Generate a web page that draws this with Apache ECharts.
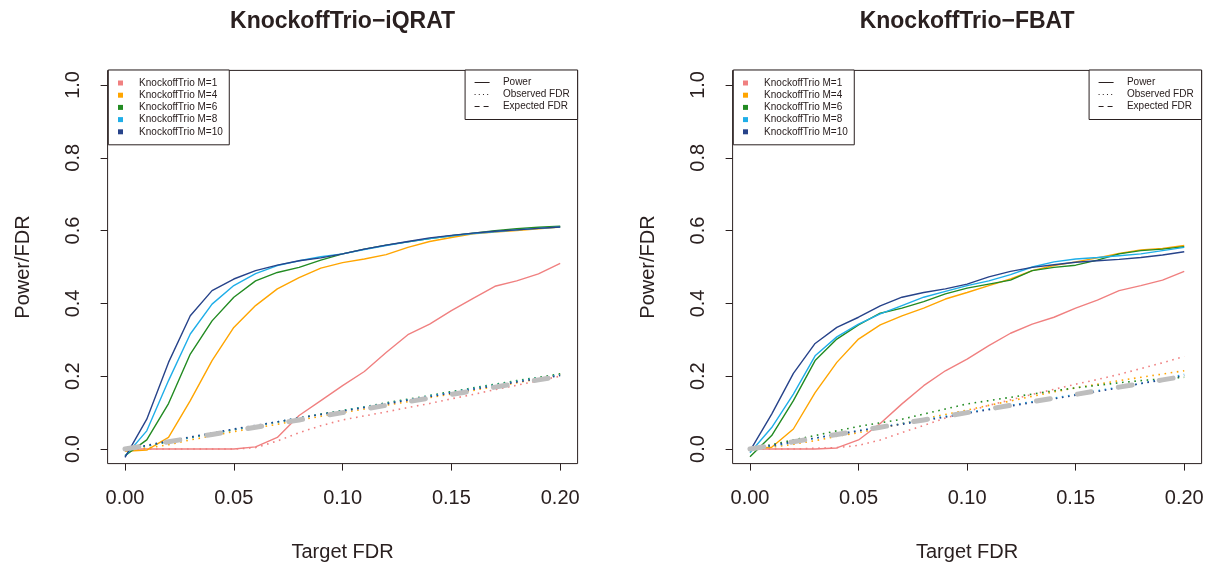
<!DOCTYPE html>
<html>
<head>
<meta charset="utf-8">
<script src="https://cdn.jsdelivr.net/npm/echarts@6/dist/echarts.min.js"></script>
<style>
html,body{margin:0;padding:0;background:#fff;}
#c{width:1212px;height:569px;}
</style>
</head>
<body>
<div id="c"></div>
<script>
// ---- data ----
var targetFDR = [0,0.01,0.02,0.03,0.04,0.05,0.06,0.07,0.08,0.09,0.10,0.11,0.12,0.13,0.14,0.15,0.16,0.17,0.18,0.19,0.20];
var expectedFDR = [0,0.01,0.02,0.03,0.04,0.05,0.06,0.07,0.08,0.09,0.10,0.11,0.12,0.13,0.14,0.15,0.16,0.17,0.18,0.19,0.20];
var methodNames = ["KnockoffTrio M=1","KnockoffTrio M=4","KnockoffTrio M=6","KnockoffTrio M=8","KnockoffTrio M=10"];
var panelTitles = ["KnockoffTrio\u2212iQRAT","KnockoffTrio\u2212FBAT"];
var xTicks = [0,0.05,0.10,0.15,0.20];
var yTicks = [0,0.2,0.4,0.6,0.8,1.0];
var styleNames = ["Power","Observed FDR","Expected FDR"];

// iQRAT panel
var iqratPowerM1  = [0,0,0,0,0,0,0.006,0.032,0.092,0.133,0.174,0.213,0.265,0.314,0.343,0.38,0.414,0.447,0.462,0.481,0.51];
var iqratPowerM4  = [-0.006,-0.003,0.032,0.133,0.243,0.334,0.394,0.44,0.471,0.497,0.512,0.522,0.534,0.554,0.57,0.581,0.591,0.596,0.6,0.605,0.61];
var iqratPowerM6  = [-0.018,0.025,0.125,0.261,0.352,0.417,0.462,0.485,0.499,0.519,0.536,0.549,0.56,0.569,0.578,0.586,0.593,0.6,0.605,0.609,0.612];
var iqratPowerM8  = [-0.02,0.05,0.188,0.316,0.398,0.449,0.482,0.504,0.517,0.528,0.536,0.548,0.559,0.569,0.578,0.586,0.592,0.597,0.602,0.606,0.61];
var iqratPowerM10 = [-0.023,0.082,0.238,0.366,0.435,0.467,0.49,0.505,0.517,0.525,0.536,0.549,0.56,0.57,0.58,0.587,0.593,0.598,0.602,0.606,0.61];
var iqratObsM1  = [0,0,0,0,0,0,0.004,0.022,0.045,0.064,0.08,0.091,0.102,0.114,0.125,0.138,0.15,0.163,0.175,0.188,0.2];
var iqratObsM4  = [0,0.002,0.012,0.025,0.036,0.048,0.058,0.068,0.079,0.09,0.1,0.11,0.12,0.13,0.141,0.151,0.161,0.172,0.182,0.193,0.205];
var iqratObsM6  = [0,0.008,0.02,0.031,0.042,0.053,0.064,0.074,0.085,0.096,0.106,0.116,0.127,0.137,0.147,0.158,0.168,0.178,0.188,0.197,0.207];
var iqratObsM8  = [0,0.009,0.021,0.032,0.043,0.054,0.064,0.075,0.085,0.095,0.105,0.115,0.125,0.135,0.146,0.156,0.166,0.176,0.186,0.195,0.204];
var iqratObsM10 = [0,0.01,0.022,0.033,0.044,0.055,0.065,0.075,0.085,0.095,0.104,0.114,0.124,0.134,0.144,0.154,0.164,0.174,0.184,0.193,0.202];

// FBAT panel
var fbatPowerM1  = [0,0,0,0,0.003,0.025,0.07,0.124,0.174,0.215,0.247,0.284,0.318,0.343,0.362,0.387,0.409,0.435,0.449,0.464,0.488];
var fbatPowerM4  = [0,0.005,0.055,0.155,0.238,0.302,0.341,0.366,0.387,0.412,0.43,0.449,0.467,0.49,0.504,0.514,0.525,0.537,0.547,0.551,0.559];
var fbatPowerM6  = [-0.021,0.037,0.133,0.243,0.302,0.341,0.373,0.387,0.405,0.426,0.442,0.453,0.464,0.49,0.499,0.505,0.519,0.536,0.545,0.549,0.556];
var fbatPowerM8  = [-0.01,0.059,0.151,0.256,0.308,0.343,0.371,0.394,0.417,0.433,0.449,0.462,0.479,0.5,0.514,0.522,0.526,0.531,0.536,0.545,0.554];
var fbatPowerM10 = [-0.005,0.096,0.208,0.29,0.334,0.362,0.393,0.417,0.43,0.44,0.453,0.473,0.488,0.499,0.506,0.513,0.517,0.521,0.526,0.533,0.542];
var fbatObsM1  = [0,0,0,0.002,0.004,0.01,0.025,0.045,0.065,0.085,0.103,0.12,0.135,0.15,0.164,0.178,0.191,0.205,0.221,0.237,0.254];
var fbatObsM4  = [0,0.005,0.013,0.023,0.035,0.045,0.057,0.07,0.083,0.095,0.107,0.12,0.132,0.145,0.157,0.168,0.178,0.188,0.197,0.206,0.215];
var fbatObsM6  = [0,0.012,0.025,0.037,0.05,0.062,0.072,0.082,0.096,0.11,0.124,0.133,0.142,0.151,0.16,0.168,0.175,0.182,0.188,0.193,0.197];
var fbatObsM8  = [0,0.008,0.018,0.03,0.041,0.05,0.06,0.07,0.08,0.09,0.1,0.11,0.12,0.13,0.14,0.15,0.16,0.17,0.18,0.192,0.205];
var fbatObsM10 = [0,0.01,0.02,0.03,0.04,0.05,0.06,0.068,0.078,0.088,0.098,0.108,0.118,0.128,0.138,0.148,0.158,0.168,0.18,0.19,0.202];

// ---- styling ----
var colors = ["#F08080","#FFA500","#228B22","#1FAEE8","#27438A"];
var ink = "#2a2020";
var FONT = "Liberation Sans";
var panels = [
  {power:[iqratPowerM1,iqratPowerM4,iqratPowerM6,iqratPowerM8,iqratPowerM10],
   obs:[iqratObsM1,iqratObsM4,iqratObsM6,iqratObsM8,iqratObsM10],
   left:107.6, right:1212-577.6, titleX:342.6},
  {power:[fbatPowerM1,fbatPowerM4,fbatPowerM6,fbatPowerM8,fbatPowerM10],
   obs:[fbatObsM1,fbatObsM4,fbatObsM6,fbatObsM8,fbatObsM10],
   left:732.6, right:1212-1201.6, titleX:967.1}
];

function zip(xs, ys){ return xs.map(function(x,i){ return [x, ys[i]]; }); }

var grids=[], xAxes=[], yAxes=[], series=[], legends=[], graphics=[];
panels.forEach(function(p, gi){
  grids.push({left:p.left, right:p.right, top:70.4, bottom:569-463.6, show:true,
    borderColor:ink, borderWidth:1, backgroundColor:'transparent', containLabel:false});
  xAxes.push({type:'value', gridIndex:gi, min:-0.008, max:0.208,
    name:'Target FDR', nameLocation:'middle', nameGap:79,
    nameTextStyle:{fontSize:20, color:ink, fontFamily:FONT},
    axisLine:{show:false, onZero:false}, splitLine:{show:false},
    axisTick:{show:true, customValues:xTicks, length:7, lineStyle:{color:ink, width:1}},
    axisLabel:{show:true, customValues:xTicks, margin:25, fontSize:20, color:ink, fontFamily:FONT,
      formatter:function(v){ return v.toFixed(2); }}});
  yAxes.push({type:'value', gridIndex:gi, min:-0.04, max:1.04,
    name:'Power/FDR', nameLocation:'middle', nameGap:74,
    nameTextStyle:{fontSize:20, color:ink, fontFamily:FONT},
    axisLine:{show:false, onZero:false}, splitLine:{show:false},
    axisTick:{show:true, customValues:yTicks, length:7, lineStyle:{color:ink, width:1}},
    axisLabel:{show:true, customValues:yTicks, margin:24, rotate:90, fontSize:20, color:ink, fontFamily:FONT,
      formatter:function(v){ return v.toFixed(1); }}});
  for (var k=0;k<5;k++){
    series.push({type:'line', name:methodNames[k], xAxisIndex:gi, yAxisIndex:gi,
      data:zip(targetFDR, p.power[k]), symbol:'none', silent:true, animation:false,
      itemStyle:{color:colors[k]}, lineStyle:{color:colors[k], width:1.4}});
  }
  for (var k2=0;k2<5;k2++){
    series.push({type:'line', name:methodNames[k2], xAxisIndex:gi, yAxisIndex:gi,
      data:zip(targetFDR, p.obs[k2]), symbol:'none', silent:true, animation:false,
      itemStyle:{color:colors[k2]}, lineStyle:{color:colors[k2], width:1.6, type:[1.6,4.6]}});
  }
  series.push({type:'line', name:'expected', xAxisIndex:gi, yAxisIndex:gi,
    data:zip(targetFDR, expectedFDR), symbol:'none', silent:true, animation:false, z:5,
    itemStyle:{color:'#BEBEBE'}, lineStyle:{color:'#BEBEBE', width:5, type:[14,27.5], cap:'round'}});

  legends.push({show:true, orient:'vertical', left:p.left+0.7, top:70, selectedMode:false,
    data:methodNames, icon:'rect', itemWidth:5, itemHeight:5, itemGap:0.2,
    padding:[7,6.5,7,9.7], borderColor:ink, borderWidth:1, backgroundColor:'#fff',
    formatter:function(n){ return '    ' + n; },
    textStyle:{fontSize:10, lineHeight:12, color:ink, fontFamily:FONT}});
  legends.push({show:true, orient:'vertical', right:p.right, top:70, selectedMode:false,
    data:styleNames, itemWidth:15, itemHeight:10, itemGap:2,
    padding:[7.5,8,8,9], borderColor:ink, borderWidth:1, backgroundColor:'#fff',
    itemStyle:{opacity:0, borderWidth:0},
    lineStyle:{width:1, color:ink},
    formatter:function(n){ return '   ' + n; },
    textStyle:{fontSize:10, lineHeight:10, color:ink, fontFamily:FONT}});

  graphics.push({type:'text', x:p.titleX, y:10, silent:true,
    style:{text:panelTitles[gi], fill:ink, fontSize:23, fontWeight:'bold', fontFamily:FONT,
      align:'center', verticalAlign:'top'}});
});

// legend-only style keys (no data)
series.push({type:'line', name:'Power', xAxisIndex:0, yAxisIndex:0, data:[], symbol:'none',
  itemStyle:{color:ink}, lineStyle:{color:ink, width:1, type:'solid'}});
series.push({type:'line', name:'Observed FDR', xAxisIndex:0, yAxisIndex:0, data:[], symbol:'none',
  itemStyle:{color:ink}, lineStyle:{color:ink, width:1, type:[1,3.2]}});
series.push({type:'line', name:'Expected FDR', xAxisIndex:0, yAxisIndex:0, data:[], symbol:'none',
  itemStyle:{color:ink}, lineStyle:{color:ink, width:1.3, type:[5,4]}});

var chart = echarts.init(document.getElementById('c'), null, {renderer:'canvas'});
chart.setOption({
  animation:false,
  backgroundColor:'#fff',
  textStyle:{fontFamily:FONT},
  grid:grids, xAxis:xAxes, yAxis:yAxes, series:series, legend:legends, graphic:graphics
});
</script>
</body>
</html>
